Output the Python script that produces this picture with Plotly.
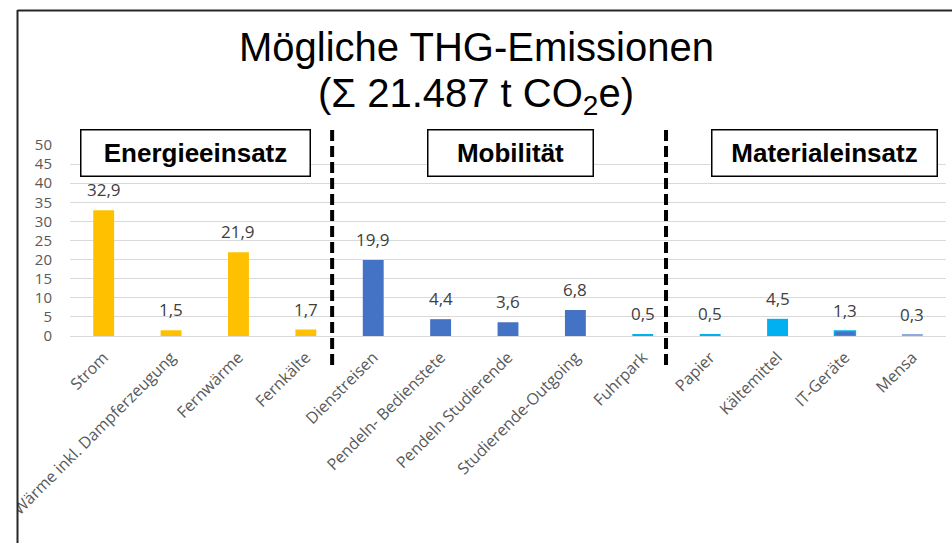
import plotly.graph_objects as go

# ---- data ----
categories = [
    "Strom", "Wärme inkl. Dampferzeugung", "Fernwärme", "Fernkälte",
    "Dienstreisen", "Pendeln- Bedienstete", "Pendeln Studierende",
    "Studierende-Outgoing", "Fuhrpark",
    "Papier", "Kältemittel", "IT-Geräte", "Mensa",
]
values = [32.9, 1.5, 21.9, 1.7, 19.9, 4.4, 3.6, 6.8, 0.5, 0.5, 4.5, 1.3, 0.3]
group_labels = ["Energieeinsatz", "Mobilität", "Materialeinsatz"]
y_ticks = [0, 5, 10, 15, 20, 25, 30, 35, 40, 45, 50]
title_lines = ["Mögliche THG-Emissionen", "(Σ 21.487 t CO<sub>2</sub>e)"]

# ---- styles ----
ORANGE, BLUE, CYAN, PALEBLUE = "#FFC000", "#4472C4", "#00B0F0", "#8EA9DB"
bar_colors = [ORANGE] * 4 + [BLUE] * 4 + [CYAN] * 3 + [BLUE, PALEBLUE]
line_colors = ["rgba(0,0,0,0)"] * 11 + [CYAN, "rgba(0,0,0,0)"]
line_widths = [0] * 11 + [1.5, 0]

labels = [f"{v:.1f}".replace(".", ",") for v in values]

fig = go.Figure(go.Bar(
    x=categories, y=values,
    marker=dict(color=bar_colors, line=dict(color=line_colors, width=line_widths)),
    width=0.31, hoverinfo="x+y",
))

W, H = 952, 543
ML, MR, MT, MB = 70, 6, 145, 207
pw, ph = W - ML - MR, H - MT - MB

def px_x(p):  # page pixel -> paper x
    return (p - ML) / pw

def px_y(p):  # page pixel -> paper y
    return (H - MB - p) / ph

shapes = []
# dashed separators (category-index positions)
for xi in (3.39, 8.345):
    shapes.append(dict(type="line", xref="x", yref="paper", x0=xi, x1=xi,
                       y0=px_y(365), y1=px_y(125),
                       line=dict(color="black", width=4, dash="11px,5px"),
                       layer="above"))
# white mask left of frame + frame lines
shapes.append(dict(type="rect", xref="paper", yref="paper", x0=px_x(-50), x1=px_x(17),
                   y0=px_y(600), y1=px_y(-50), fillcolor="white", line=dict(width=0),
                   layer="above"))
shapes.append(dict(type="line", xref="paper", yref="paper", x0=px_x(17.5), x1=px_x(17.5),
                   y0=px_y(560), y1=px_y(10), line=dict(color="#262626", width=2),
                   layer="above"))
shapes.append(dict(type="line", xref="paper", yref="paper", x0=px_x(17.5), x1=px_x(960),
                   y0=px_y(10.5), y1=px_y(10.5), line=dict(color="#262626", width=2),
                   layer="above"))

annotations = []
# value labels above bars
for c, v, t in zip(categories, values, labels):
    annotations.append(dict(
        x=c, y=v, xref="x", yref="y", text=t, showarrow=False,
        xanchor="center", yanchor="bottom", yshift=7,
        font=dict(family="Open Sans", size=17, color="#404040"),
    ))

box_geo = [  # (center x px, center y px, width, height)
    (195, 153, 226, 43),
    (510, 153, 162, 43),
    (824, 153, 222, 43),
]
for lab, (cx, cy, bw, bh) in zip(group_labels, box_geo):
    annotations.append(dict(
        text=f"<b>{lab}</b>", xref="paper", yref="paper", x=px_x(cx), y=px_y(cy),
        xanchor="center", yanchor="middle", showarrow=False,
        font=dict(family="Liberation Sans, Arial", size=26, color="black"),
        bgcolor="white", bordercolor="black", borderwidth=1.5, borderpad=1,
        width=bw, height=bh,
    ))
for line, cy in zip(title_lines, (47, 96)):
    annotations.append(dict(
        text=line, xref="paper", yref="paper", x=px_x(476), y=px_y(cy),
        xanchor="center", yanchor="middle", showarrow=False,
        font=dict(family="Liberation Sans, Arial", size=40, color="black"),
    ))

fig.update_layout(
    width=W, height=H, margin=dict(l=ML, r=MR, t=MT, b=MB),
    paper_bgcolor="white", plot_bgcolor="white",
    showlegend=False, shapes=shapes, annotations=annotations,
    xaxis=dict(type="category", tickangle=-45, showgrid=False, showline=False,
               zeroline=False, ticks="", ticklabelstandoff=8,
               tickfont=dict(family="Open Sans", size=16, color="#595959")),
    yaxis=dict(range=[0, 50], tickvals=y_ticks, showgrid=True, gridcolor="#D9D9D9",
               gridwidth=1, zeroline=True, zerolinecolor="#D9D9D9", zerolinewidth=1,
               showline=False, ticks="", ticklabelstandoff=17,
               tickfont=dict(family="Open Sans", size=15, color="#595959")),
)

fig.write_html("out.html", config={"displayModeBar": False},
               post_script="document.body.style.margin='0';")
